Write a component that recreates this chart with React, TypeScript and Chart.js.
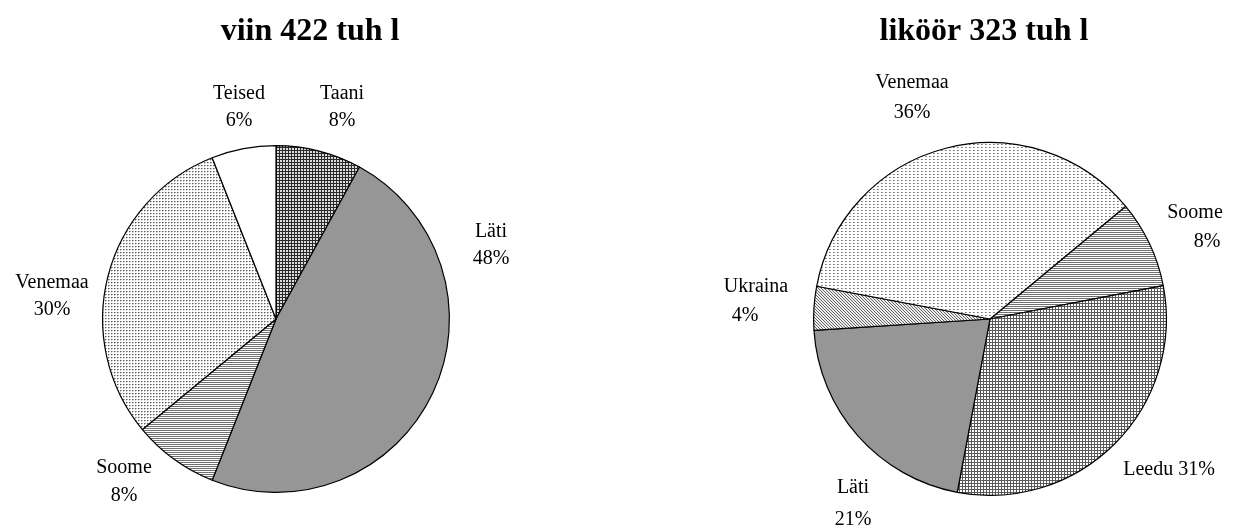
import React, { useEffect, useRef } from 'react';
import { Chart, registerables } from 'chart.js';

Chart.register(...registerables);

// ---- data ----
const viinTitle = 'viin 422 tuh l';
const viinCategories = ['Taani', 'Läti', 'Soome', 'Venemaa', 'Teised'];
const viinValues = [8, 48, 8, 30, 6];

const likoorTitle = 'liköör 323 tuh l';
const likoorCategories = ['Soome', 'Leedu', 'Läti', 'Ukraina', 'Venemaa'];
const likoorValues = [8, 31, 21, 4, 36];
const likoorOneLineLabels = ['Leedu'];

type PatternKind = 'gridDark' | 'grid' | 'solid' | 'hlines' | 'dots' | 'fineDots' | 'diag' | 'white';

const viinPatterns: PatternKind[] = ['gridDark', 'solid', 'hlines', 'dots', 'white'];
const likoorPatterns: PatternKind[] = ['hlines', 'grid', 'solid', 'diag', 'fineDots'];

// label anchor layout (page coordinates), one per slice: [name x, name y, pct x, pct y]
const viinLabelLayout: number[][] = [
  [342, 94, 342, 121],
  [491, 232, 491, 259],
  [124, 468, 124, 496],
  [52, 283, 52, 310],
  [239, 94, 239, 121],
];
const likoorLabelLayout: number[][] = [
  [1195, 213, 1207, 242],
  [1169, 470, 1169, 470],
  [853, 488, 853, 520],
  [756, 287, 745, 316],
  [912, 83, 912, 113],
];

function makePattern(kind: PatternKind): CanvasPattern | string {
  if (kind === 'solid') return '#969696';
  if (kind === 'white') return '#ffffff';
  const c = document.createElement('canvas');
  const ctx = c.getContext('2d')!;
  const px = (x: number, y: number, col: string) => {
    ctx.fillStyle = col;
    ctx.fillRect(x, y, 1, 1);
  };
  if (kind === 'gridDark') {
    c.width = 3; c.height = 3;
    ctx.fillStyle = '#dcdcdc'; ctx.fillRect(0, 0, 3, 3);
    ctx.fillStyle = '#2a2a2a';
    ctx.fillRect(0, 0, 3, 1);
    ctx.fillRect(0, 0, 1, 3);
  } else if (kind === 'grid') {
    c.width = 3; c.height = 3;
    ctx.fillStyle = '#fff'; ctx.fillRect(0, 0, 3, 3);
    ctx.fillStyle = '#5a5a5a';
    ctx.fillRect(0, 0, 3, 1);
    ctx.fillRect(0, 0, 1, 3);
  } else if (kind === 'hlines') {
    c.width = 2; c.height = 2;
    ctx.fillStyle = '#fff'; ctx.fillRect(0, 0, 2, 2);
    ctx.fillStyle = '#707070';
    ctx.fillRect(0, 0, 2, 1);
  } else if (kind === 'dots') {
    c.width = 3; c.height = 3;
    ctx.fillStyle = '#fff'; ctx.fillRect(0, 0, 3, 3);
    px(0, 0, '#5e5e5e');
    px(1, 0, '#a8a8a8');
    px(0, 1, '#d0d0d0');
  } else if (kind === 'fineDots') {
    c.width = 4; c.height = 3;
    ctx.fillStyle = '#fff'; ctx.fillRect(0, 0, 4, 3);
    px(0, 0, '#707070');
    px(1, 0, '#a0a0a0');
  } else if (kind === 'diag') {
    c.width = 3; c.height = 3;
    ctx.fillStyle = '#ececec'; ctx.fillRect(0, 0, 3, 3);
    px(0, 0, '#666666');
    px(1, 1, '#666666');
    px(2, 2, '#666666');
  }
  return ctx.createPattern(c, 'repeat')!;
}

const FONT = '"Liberation Serif", "Times New Roman", serif';

interface PieProps {
  title: string;
  titleX: number;
  categories: string[];
  values: number[];
  patterns: PatternKind[];
  rotation: number;
  padding: { left: number; right: number; top: number; bottom: number };
  labelLayout: number[][];
  oneLine: string[];
  left: number;
}

function PieChart(props: PieProps) {
  const ref = useRef<HTMLCanvasElement | null>(null);
  useEffect(() => {
    if (!ref.current) return;
    const labelPlugin = {
      id: 'sliceLabels',
      afterDraw(chart: any) {
        const ctx = chart.ctx as CanvasRenderingContext2D;
        ctx.save();
        ctx.fillStyle = '#000';
        ctx.font = `bold 32px ${FONT}`;
        ctx.textAlign = 'center';
        ctx.textBaseline = 'alphabetic';
        ctx.fillText(props.title, props.titleX - props.left, 40);
        const meta = chart.getDatasetMeta(0);
        const total = props.values.reduce((a, b) => a + b, 0);
        ctx.font = `20px ${FONT}`;
        ctx.textBaseline = 'middle';
        meta.data.forEach((_arc: any, i: number) => {
          const name = props.categories[i];
          const pct = Math.round((props.values[i] / total) * 100) + '%';
          const [nx, ny, px, py] = props.labelLayout[i];
          if (props.oneLine.includes(name)) {
            ctx.fillText(`${name} ${pct}`, nx - props.left, ny);
          } else {
            ctx.fillText(name, nx - props.left, ny);
            ctx.fillText(pct, px - props.left, py);
          }
        });
        ctx.restore();
      },
    };
    const chart = new Chart(ref.current, {
      type: 'pie',
      data: {
        labels: props.categories,
        datasets: [
          {
            data: props.values,
            backgroundColor: props.patterns.map(makePattern) as any,
            borderColor: '#000',
            borderWidth: 1.2,
            hoverOffset: 0,
          },
        ],
      },
      options: {
        animation: false,
        responsive: false,
        rotation: props.rotation,
        layout: { padding: props.padding },
        plugins: {
          legend: { display: false },
          tooltip: { enabled: false },
          title: { display: false },
        },
      },
      plugins: [labelPlugin],
    });
    return () => chart.destroy();
  }, []);
  return (
    <canvas
      ref={ref}
      width={617}
      height={531}
      style={{ position: 'absolute', left: props.left, top: 0, width: 617, height: 531 }}
    />
  );
}

export default function App() {
  return (
    <div
      style={{
        position: 'fixed',
        left: 0,
        top: 0,
        width: 1234,
        height: 531,
        background: '#fff',
      }}
    >
      <PieChart
        title={viinTitle}
        titleX={310}
        categories={viinCategories}
        values={viinValues}
        patterns={viinPatterns}
        rotation={0}
        padding={{ left: 102, right: 167, top: 145, bottom: 38 }}
        labelLayout={viinLabelLayout}
        oneLine={[]}
        left={0}
      />
      <PieChart
        title={likoorTitle}
        titleX={984}
        categories={likoorCategories}
        values={likoorValues}
        patterns={likoorPatterns}
        rotation={50.3}
        padding={{ left: 196, right: 67, top: 142, bottom: 35 }}
        labelLayout={likoorLabelLayout}
        oneLine={likoorOneLineLabels}
        left={617}
      />
    </div>
  );
}
